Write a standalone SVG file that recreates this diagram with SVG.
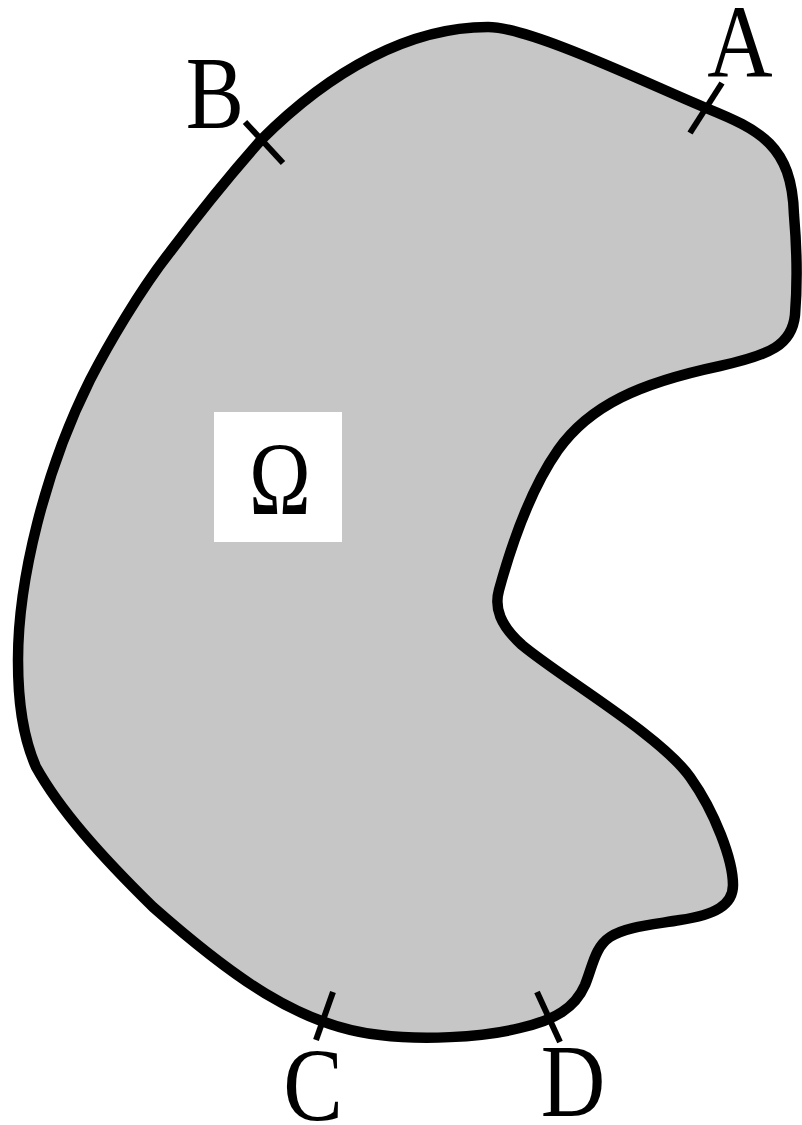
<svg xmlns="http://www.w3.org/2000/svg" width="802" height="1125" viewBox="0 0 802 1125">
<style>
.region{fill:#c6c6c6;stroke:#000;stroke-width:10.5;stroke-linejoin:round}
.tick{stroke:#000;stroke-width:6;fill:none}
.lbl{font-family:"Liberation Serif",serif;font-size:104px;fill:#000;text-anchor:middle}
</style>
<rect width="802" height="1125" fill="#fff"/>
<g id="omega-region">
<path class="region" d="M 261 140 C 331 70, 410 27, 488 27 C 530 27, 646 83, 706 108 C 760 130, 792 145, 794 215 C 797 250, 797 290, 795 315 C 792 345, 770 355, 720 366 C 640 383, 590 405, 558 450 C 530 490, 510 550, 499 590 C 494 608, 500 625, 522 645 C 560 677, 660 735, 690 777 C 715 812, 733 860, 733 885 C 733 905, 715 915, 680 920 C 650 925, 625 927, 610 937 C 595 947, 593 965, 585 985 C 575 1008, 555 1020, 520 1028 C 480 1038, 420 1040, 380 1035 C 300 1027, 230 975, 153 907 C 100 855, 60 810, 36 767 C 22 735, 18 700, 18 660 C 18 580, 45 470, 90 380 C 108 345, 140 290, 170 252 C 200 212, 230 175, 261 140 Z"/>
</g>
<g id="omega-label">
<rect x="214" y="412" width="128" height="130" fill="#fff"/>
<text class="lbl" transform="translate(280,514) scale(0.8,1)">Ω</text>
</g>
<g id="connectors">
<line class="tick" x1="722" y1="83" x2="690" y2="133"/>
<line class="tick" x1="245" y1="122" x2="283" y2="163"/>
<line class="tick" x1="333" y1="992" x2="316" y2="1040"/>
<line class="tick" x1="537" y1="992" x2="560" y2="1042"/>
</g>
<g id="label-A"><text class="lbl" transform="translate(740,77) scale(0.87,1)">A</text></g>
<g id="label-B"><text class="lbl" transform="translate(215,128) scale(0.84,1)">B</text></g>
<g id="label-C"><text class="lbl" transform="translate(313,1120) scale(0.86,1)">C</text></g>
<g id="label-D"><text class="lbl" transform="translate(573,1116) scale(0.86,1)">D</text></g>
</svg>
